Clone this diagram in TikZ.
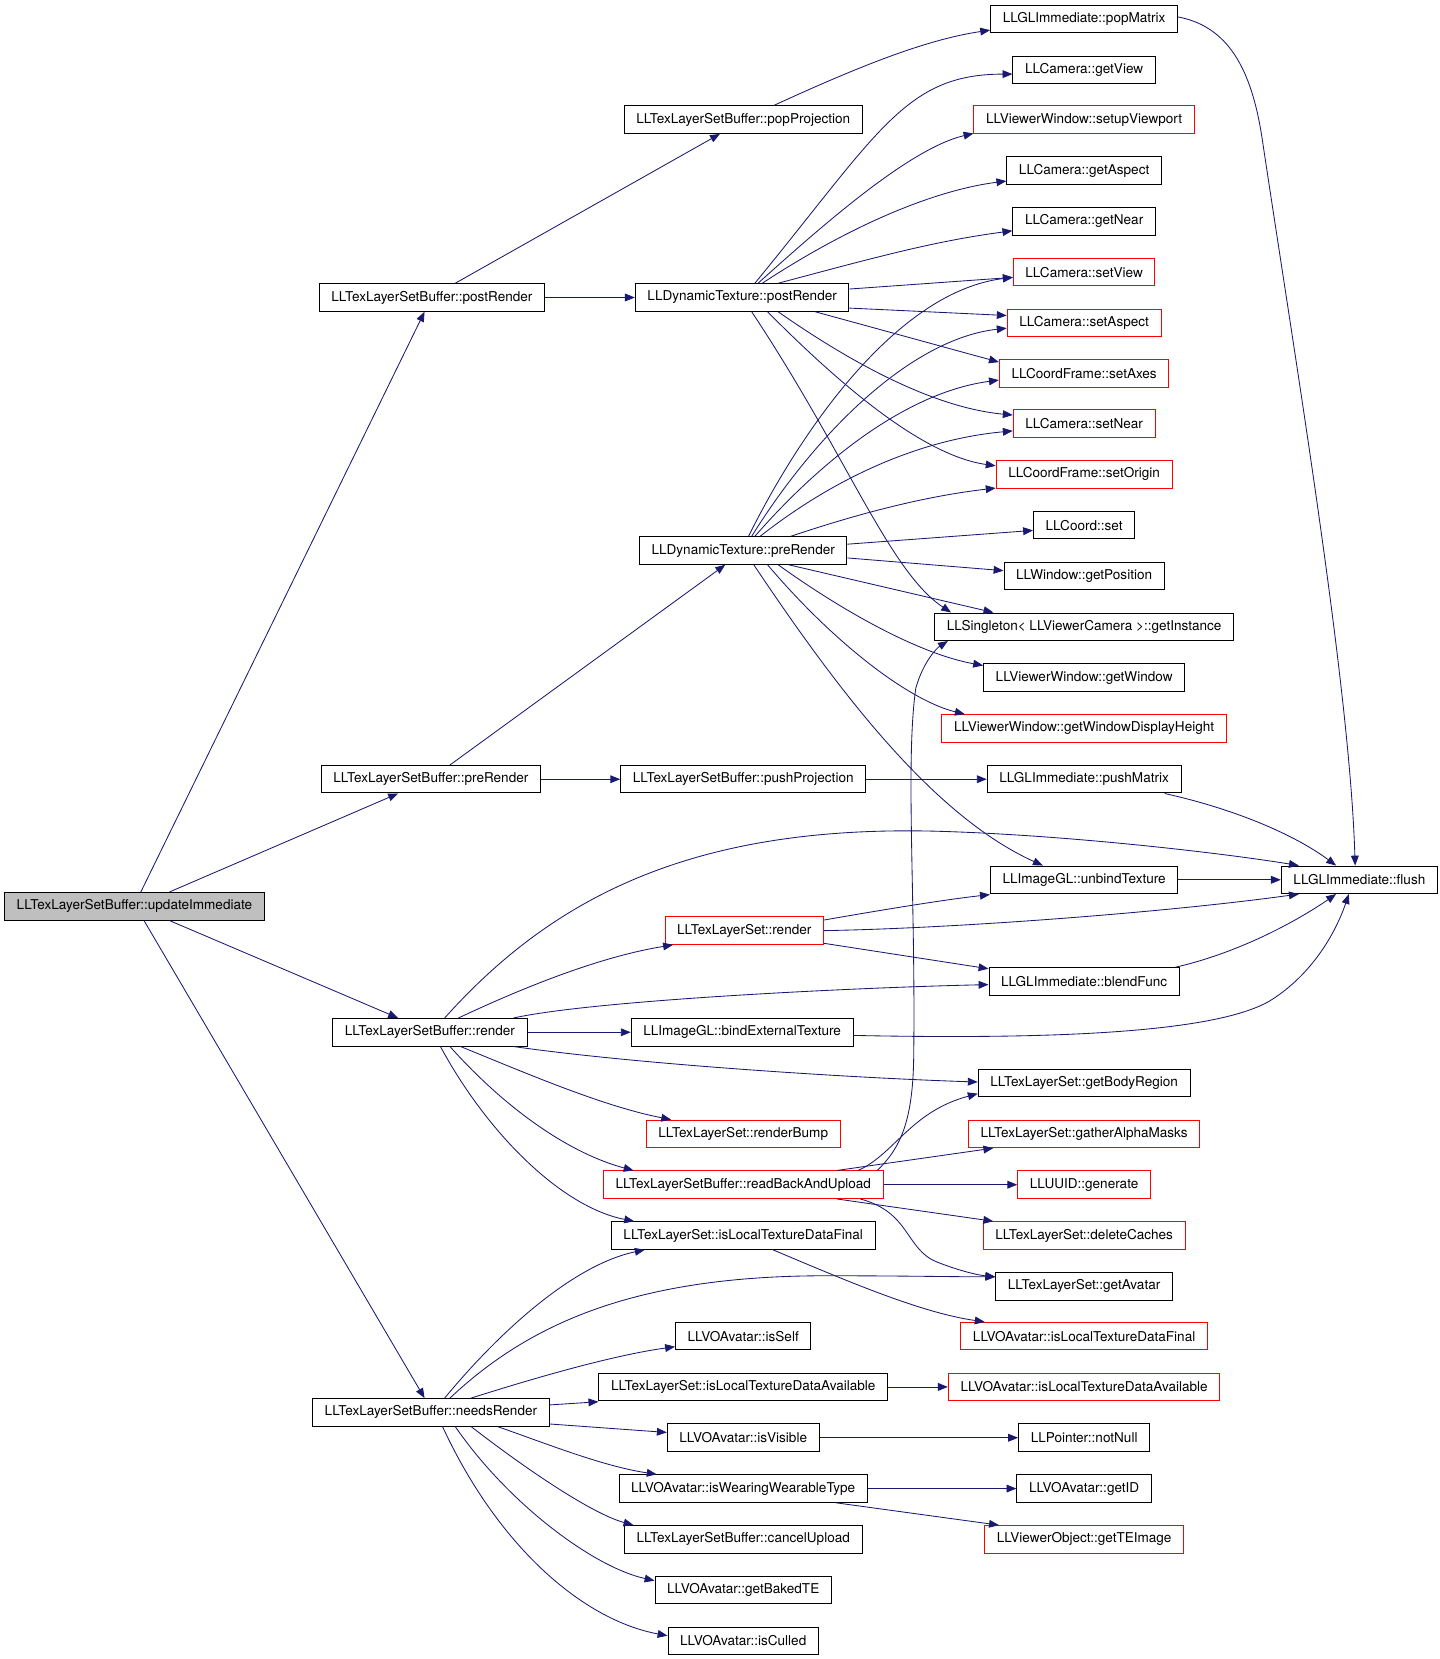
\documentclass[tikz,border=0pt]{standalone}
\usepackage{fontspec}
\setmainfont{TeX Gyre Heros}
\usetikzlibrary{arrows.meta,calc}
\definecolor{edgeblue}{HTML}{191970}
\definecolor{rootgray}{HTML}{BFBFBF}
\tikzset{
 fn/.style={draw=black, line width=0.7pt, rectangle, minimum height=19.5pt, inner xsep=8.6pt, inner ysep=0pt, font=\fontsize{9.6}{11}\selectfont, fill=white},
 fnred/.style={fn, draw=red},
 fnroot/.style={fn, fill=rootgray},
 e/.style={draw=edgeblue, line width=0.6pt, -{Triangle[length=7pt,width=5.5pt]}}
}
\begin{document}
\begin{tikzpicture}[x=0.75pt,y=-0.75pt]
\useasboundingbox (0,0) rectangle (1360,1567);
% left column
\node[fnroot] (upd) at (127,856) {LLTexLayerSetBuffer::updateImmediate};
\node[fn] (tpost) at (408,281) {LLTexLayerSetBuffer::postRender};
\node[fn] (tpre) at (407,736) {LLTexLayerSetBuffer::preRender};
\node[fn] (trender) at (406,975) {LLTexLayerSetBuffer::render};
\node[fn] (tneeds) at (407,1334) {LLTexLayerSetBuffer::needsRender};
% middle column
\node[fn] (popproj) at (702,113) {LLTexLayerSetBuffer::popProjection};
\node[fn] (dpost) at (701,281) {LLDynamicTexture::postRender};
\node[fn] (dpre) at (702,520) {LLDynamicTexture::preRender};
\node[fn] (pushproj) at (702,736) {LLTexLayerSetBuffer::pushProjection};
\node[fnred] (tlsrender) at (703,879) {LLTexLayerSet::render};
\node[fn] (bindext) at (701,975) {LLImageGL::bindExternalTexture};
\node[fnred] (renderbump) at (702,1071) {LLTexLayerSet::renderBump};
\node[fnred] (readback) at (702,1119) {LLTexLayerSetBuffer::readBackAndUpload};
\node[fn] (tlsfinal) at (702,1167) {LLTexLayerSet::isLocalTextureDataFinal};
\node[fn] (isself) at (702,1262) {LLVOAvatar::isSelf};
\node[fn] (tlsavail) at (702,1310) {LLTexLayerSet::isLocalTextureDataAvailable};
\node[fn] (isvisible) at (702,1358) {LLVOAvatar::isVisible};
\node[fn] (iswearing) at (702,1406) {LLVOAvatar::isWearingWearableType};
\node[fn] (cancel) at (702,1454) {LLTexLayerSetBuffer::cancelUpload};
\node[fn] (baked) at (702,1502) {LLVOAvatar::getBakedTE};
\node[fn] (culled) at (702,1550) {LLVOAvatar::isCulled};
% right column
\node[fn] (popmatrix) at (1024,18) {LLGLImmediate::popMatrix};
\node[fn] (getview) at (1024,66) {LLCamera::getView};
\node[fnred] (setupvp) at (1024,113) {LLViewerWindow::setupViewport};
\node[fn] (getaspect) at (1024,161) {LLCamera::getAspect};
\node[fn] (getnear) at (1024,209) {LLCamera::getNear};
\node[fnred] (setview) at (1024,257) {LLCamera::setView};
\node[fnred] (setaspect) at (1024,305) {LLCamera::setAspect};
\node[fnred] (setaxes) at (1024,353) {LLCoordFrame::setAxes};
\node[fnred] (setnear) at (1024,400) {LLCamera::setNear};
\node[fnred] (setorigin) at (1024,448) {LLCoordFrame::setOrigin};
\node[fn] (coordset) at (1024,496) {LLCoord::set};
\node[fn] (getpos) at (1024,544) {LLWindow::getPosition};
\node[fn] (getinst) at (1024,592) {LLSingleton< LLViewerCamera >::getInstance};
\node[fn] (getwin) at (1024,640) {LLViewerWindow::getWindow};
\node[fnred] (getwdh) at (1024,688) {LLViewerWindow::getWindowDisplayHeight};
\node[fn] (pushmatrix) at (1024,736) {LLGLImmediate::pushMatrix};
\node[fn] (unbind) at (1024,831) {LLImageGL::unbindTexture};
\node[fn] (blend) at (1024,927) {LLGLImmediate::blendFunc};
\node[fn] (bodyreg) at (1024,1023) {LLTexLayerSet::getBodyRegion};
\node[fnred] (gather) at (1024,1071) {LLTexLayerSet::gatherAlphaMasks};
\node[fnred] (generate) at (1024,1119) {LLUUID::generate};
\node[fnred] (delcache) at (1024,1167) {LLTexLayerSet::deleteCaches};
\node[fn] (getavatar) at (1024,1215) {LLTexLayerSet::getAvatar};
\node[fnred] (vofinal) at (1024,1262) {LLVOAvatar::isLocalTextureDataFinal};
\node[fnred] (voavail) at (1024,1310) {LLVOAvatar::isLocalTextureDataAvailable};
\node[fn] (notnull) at (1024,1358) {LLPointer::notNull};
\node[fn] (getid) at (1024,1406) {LLVOAvatar::getID};
\node[fnred] (teimage) at (1024,1454) {LLViewerObject::getTEImage};
\node[fn] (flush) at (1284,831) {LLGLImmediate::flush};

% updateImmediate
\draw[e] ($(upd.north)+(6,0)$) -- ($(tpost.south)+(-7,0)$);
\draw[e] ($(upd.north)+(33,0)$) -- ($(tpre.south)+(-31,0)$);
\draw[e] ($(upd.south)+(33,0)$) -- ($(trender.north)+(-30,0)$);
\draw[e] ($(upd.south)+(9,0)$) -- ($(tneeds.north)+(-6,0)$);
% postRender
\draw[e] ($(tpost.north)+(22,0)$) -- ($(popproj.south)+(-22,0)$);
\draw[e] (tpost.east) -- (dpost.west);
\draw[e] ($(popproj.north)+(29,0)$) .. controls (800,68) and (870,38) .. ($(popmatrix.south west)+(0,-3)$);
\draw[e] ($(popmatrix.east)+(0,-2)$) .. controls (1160,25) and (1182,65) .. (1192,130) .. controls (1225,350) and (1275,650) .. ($(flush.north)+(-4,0)$);
% DynamicTexture::postRender
\draw[e] ($(dpost.north)+(12,0)$) .. controls (830,125) and (855,70) .. ($(getview.west)+(0,4)$);
\draw[e] ($(dpost.north)+(15,0)$) .. controls (780,210) and (860,140) .. ($(setupvp.west)+(0,13)$);
\draw[e] ($(dpost.north)+(19,0)$) .. controls (800,215) and (880,180) .. ($(getaspect.west)+(0,10)$);
\draw[e] ($(dpost.north)+(34,0)$) .. controls (820,245) and (880,228) .. ($(getnear.west)+(0,9)$);
\draw[e] ($(dpost.east)+(0,-8)$) -- ($(setview.west)+(0,5)$);
\draw[e] ($(dpost.east)+(0,10)$) -- ($(setaspect.west)+(0,-7)$);
\draw[e] ($(dpost.south)+(69,0)$) -- ($(setaxes.west)+(0,-11)$);
\draw[e] ($(dpost.south)+(34,0)$) .. controls (800,340) and (880,385) .. ($(setnear.west)+(0,-8)$);
\draw[e] ($(dpost.south)+(24,0)$) .. controls (790,360) and (870,430) .. ($(setorigin.west)+(0,-8)$);
\draw[e] ($(dpost.south)+(9,0)$) .. controls (800,430) and (840,540) .. ($(getinst.north west)+(16,0)$);
% DynamicTexture::preRender
\draw[e] ($(dpre.north)+(5,0)$) .. controls (760,400) and (850,275) .. ($(setview.west)+(0,5)$);
\draw[e] ($(dpre.north)+(8,0)$) .. controls (770,410) and (860,320) .. ($(setaspect.west)+(0,5)$);
\draw[e] ($(dpre.north)+(11,0)$) .. controls (780,430) and (860,370) .. ($(setaxes.west)+(0,6)$);
\draw[e] ($(dpre.north)+(16,0)$) .. controls (790,450) and (870,415) .. ($(setnear.west)+(0,7)$);
\draw[e] ($(dpre.north)+(45,0)$) .. controls (820,482) and (880,468) .. ($(setorigin.west)+(0,13)$);
\draw[e] ($(dpre.east)+(0,-6)$) -- ($(coordset.west)+(0,5)$);
\draw[e] ($(dpre.east)+(0,7)$) -- ($(getpos.west)+(0,-5)$);
\draw[e] ($(dpre.south)+(43,0)$) -- ($(getinst.north west)+(56,0)$);
\draw[e] ($(dpre.south)+(33,0)$) .. controls (800,580) and (870,618) .. ($(getwin.north west)+(0,2)$);
\draw[e] ($(dpre.south)+(23,0)$) .. controls (790,610) and (860,662) .. ($(getwdh.north west)+(22,0)$);
\draw[e] ($(dpre.south)+(10,0)$) .. controls (790,650) and (880,770) .. ($(unbind.north west)+(50,0)$);
% preRender
\draw[e] ($(tpre.north)+(18,0)$) -- ($(dpre.south)+(-17,0)$);
\draw[e] (tpre.east) -- (pushproj.west);
\draw[e] (pushproj.east) -- (pushmatrix.west);
\draw[e] ($(pushmatrix.south)+(76,0)$) .. controls (1170,765) and (1225,790) .. ($(flush.north)+(-22,0)$);
% render
\draw[e] ($(trender.north)+(14,0)$) .. controls (520,850) and (650,780) .. (880,785) .. controls (1000,788) and (1150,805) .. ($(flush.north west)+(17,0)$);
\draw[e] ($(trender.north)+(27,0)$) .. controls (500,930) and (570,903) .. ($(tlsrender.south west)+(8,0)$);
\draw[e] ($(trender.north)+(79,0)$) .. controls (560,945) and (800,933) .. ($(blend.west)+(0,3)$);
\draw[e] (trender.east) -- (bindext.west);
\draw[e] ($(trender.south)+(79,0)$) .. controls (600,1005) and (800,1018) .. ($(bodyreg.west)+(0,-1)$);
\draw[e] ($(trender.south)+(29,0)$) .. controls (500,1015) and (570,1045) .. ($(renderbump.north west)+(24,0)$);
\draw[e] ($(trender.south)+(19,0)$) .. controls (480,1050) and (540,1090) .. ($(readback.north west)+(29,0)$);
\draw[e] ($(trender.south)+(10,0)$) .. controls (460,1070) and (530,1140) .. ($(tlsfinal.north west)+(22,0)$);
% LLTexLayerSet::render
\draw[e] ($(tlsrender.east)+(0,-10)$) .. controls (830,860) and (890,850) .. ($(unbind.west)+(0,14)$);
\draw[e] (tlsrender.east) .. controls (900,877) and (1100,862) .. ($(flush.south west)+(17,0)$);
\draw[e] ($(tlsrender.east)+(0,12)$) -- ($(blend.west)+(0,-12)$);
\draw[e] (unbind.east) -- (flush.west);
\draw[e] ($(blend.north east)+(-4,0)$) .. controls (1170,900) and (1225,870) .. ($(flush.south)+(-22,0)$);
\draw[e] ($(bindext.east)+(0,3)$) .. controls (1000,982) and (1150,975) .. (1200,945) .. controls (1240,920) and (1262,880) .. ($(flush.south)+(-10,0)$);
% readBackAndUpload
\draw[e] ($(readback.north east)+(-6,0)$) .. controls (850,1085) and (862,1060) .. (863,1000) .. controls (865,850) and (855,720) .. (865,650) .. controls (872,625) and (885,612) .. ($(getinst.south west)+(13,0)$);
\draw[e] ($(readback.north east)+(-24,0)$) .. controls (845,1090) and (860,1050) .. ($(bodyreg.west)+(0,10)$);
\draw[e] ($(readback.north east)+(-44,0)$) -- ($(gather.south west)+(24,0)$);
\draw[e] (readback.east) -- (generate.west);
\draw[e] ($(readback.south east)+(-44,0)$) -- ($(delcache.north west)+(10,0)$);
\draw[e] ($(readback.south east)+(-22,0)$) .. controls (860,1145) and (855,1180) .. (885,1192) .. controls (900,1198) and (920,1204) .. ($(getavatar.west)+(0,-9)$);
\draw[e] ($(tlsfinal.south)+(28,0)$) .. controls (800,1210) and (870,1240) .. ($(vofinal.north west)+(23,0)$);
% needsRender
\draw[e] ($(tneeds.north)+(13,0)$) .. controls (470,1260) and (540,1195) .. ($(tlsfinal.south west)+(32,0)$);
\draw[e] ($(tneeds.north)+(18,0)$) .. controls (500,1250) and (600,1205) .. (780,1205) .. controls (850,1205) and (900,1206) .. ($(getavatar.west)+(0,-9)$);
\draw[e] ($(tneeds.north)+(38,0)$) .. controls (510,1300) and (580,1280) .. ($(isself.west)+(0,10)$);
\draw[e] ($(tneeds.east)+(0,-7)$) -- ($(tlsavail.west)+(0,14)$);
\draw[e] ($(tneeds.east)+(0,11)$) -- ($(isvisible.west)+(0,-5)$);
\draw[e] ($(tneeds.south)+(63,0)$) .. controls (520,1365) and (570,1385) .. ($(iswearing.north west)+(36,0)$);
\draw[e] ($(tneeds.south)+(38,0)$) .. controls (500,1390) and (560,1430) .. ($(cancel.north west)+(9,0)$);
\draw[e] ($(tneeds.south)+(23,0)$) .. controls (480,1420) and (560,1480) .. ($(baked.west)+(0,-9)$);
\draw[e] ($(tneeds.south)+(11,0)$) .. controls (470,1460) and (550,1530) .. ($(culled.west)+(0,-5)$);
\draw[e] (tlsavail.east) -- (voavail.west);
\draw[e] (isvisible.east) -- (notnull.west);
\draw[e] (iswearing.east) -- (getid.west);
\draw[e] ($(iswearing.south east)+(-30,0)$) -- ($(teimage.north west)+(14,0)$);
\end{tikzpicture}
\end{document}
